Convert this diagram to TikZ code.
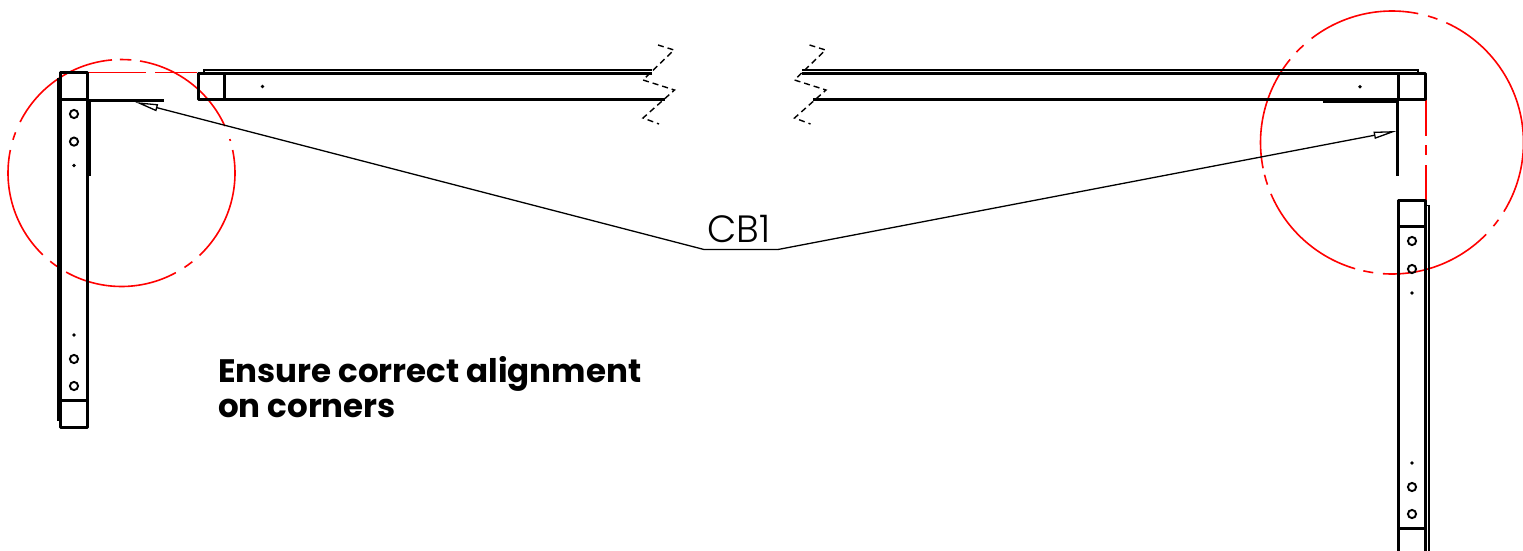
\documentclass[tikz,border=0pt]{standalone}
\usepackage{fontspec}
\usetikzlibrary{arrows.meta}
\newfontfamily\labelfont{Poppins Light}
\newfontfamily\notefont{Poppins}
\tikzset{
	profile/.style={line width=3pt, line join=round},
	skin/.style={line width=1.5pt},
	breakline/.style={line width=1.4pt, dash pattern=on 6pt off 4pt},
	centerline/.style={color=red, line width=1.6pt},
	leader/.style={line width=1.3pt, {Triangle[open, length=23pt, width=7pt]}-{Triangle[open, length=23pt, width=7pt]}},
	hole/.style={line width=1.9pt},
}
\begin{document}
\begin{tikzpicture}[x=1pt, y=1pt]
\useasboundingbox (0,0) rectangle (1523,-551);

\coordinate (leftcentre) at (121.5,-173);
\coordinate (rightcentre) at (1392,-142.5);

% detail circles
\foreach \a/\b in {-46.6/11.7, 16.4/17.4, 24.4/80.6, 85/90.8, 94.8/153.3, 159/163, 168.3/226.1, 231.1/235.4, 240.8/298.6, 303.7/308.6} {
	\draw[centerline] ([shift=(\a:113.5)]leftcentre) arc (\a:\b:113.5);
}
\foreach \a/\b in {-31.7/65.6, 69.8/74.1, 78.5/127.7, 132.3/136.6, 140.8/191.3, 194.2/198.7, 203/253.7, 257.4/261.8, 266/315.7, 320.5/324} {
	\draw[centerline] ([shift=(\a:131.5)]rightcentre) arc (\a:\b:131.5);
}

% construction lines
\draw[centerline] (87,-72.7) -- (146,-72.7);
\draw[centerline] (155,-72.7) -- (197,-72.7);
\draw[centerline] (1425.7,-99.3) -- (1425.7,-136);
\draw[centerline] (1425.7,-145) -- (1425.7,-155);
\draw[centerline] (1425.7,-165) -- (1425.7,-200.7);

% left post
\draw[profile] (87.3,-427) -- (60.6,-427) -- (60.6,-72.7) -- (87.3,-72.7) -- cycle;
\draw[profile] (59,-99.3) -- (88,-99.3);
\draw[profile] (59,-400) -- (88,-400);
\draw[skin] (58,-78) -- (58,-421);
\draw[profile] (89.5,-100) -- (89.5,-176);
\draw[profile] (88,-100.8) -- (164,-100.8);

\foreach \y in {114,141.6,359,386} {
	\draw[hole] (74,-\y) circle (4.1);
}
\foreach \y in {165.5,335} {
	\fill (74,-\y) circle (1.9);
}

% right post
\draw[profile] (1398.8,-551) -- (1398.8,-200.7) -- (1425.7,-200.7) -- (1425.7,-551);
\draw[profile] (1398,-226.7) -- (1426,-226.7);
\draw[profile] (1398,-528.3) -- (1426,-528.3);
\draw[skin] (1425.7,-205.7) -- (1429,-205.7) -- (1429,-551);

\foreach \y in {241,269,487,514} {
	\draw[hole] (1412,-\y) circle (4.1);
}
\foreach \y in {293,463} {
	\fill (1412,-\y) circle (1.9);
}

% left beam
\draw[profile] (652,-73.2) -- (198,-73.2) -- (198,-99.3) -- (665,-99.3);
\draw[profile] (224.5,-73.2) -- (224.5,-99.3);
\draw[skin] (204,-73.2) -- (204,-70) -- (652,-70);
\fill (262.5,-86.5) circle (1.9);

% right beam
\draw[profile] (802,-73.2) -- (1425.7,-73.2) -- (1425.7,-99.3) -- (813,-99.3);
\draw[profile] (1398,-73.2) -- (1398,-99.3);
\draw[skin] (802,-70) -- (1418,-70) -- (1418,-73.2);
\fill (1360,-86.7) circle (1.9);
\draw[line width=2pt] (1322.7,-101.5) -- (1397,-101.5);
\draw[profile] (1397,-100) -- (1397,-176);

% break lines
\foreach \x in {0,151.5} {
	\draw[breakline] (658+\x,-45) -- (674+\x,-50) -- (643+\x,-80) -- (674.5+\x,-90) -- (643+\x,-118) -- (659+\x,-124);
}

% leader
\coordinate (lefttip) at (135,-102);
\coordinate (righttip) at (1396.7,-131);
\coordinate (leftknee) at (704,-249.5);
\coordinate (rightknee) at (778,-249.5);
\draw[leader] (lefttip) -- (leftknee) -- (rightknee) -- (righttip);

\node[anchor=base, inner sep=0pt, font=\labelfont\fontsize{38}{38}\selectfont] (cb1) at (739,-242.7) {CB1};
\node[anchor=north west, inner sep=0pt, align=left, font=\notefont\bfseries\fontsize{32.5}{35}\selectfont] (note) at (218,-356) {Ensure correct alignment\\on corners};
\end{tikzpicture}
\end{document}
